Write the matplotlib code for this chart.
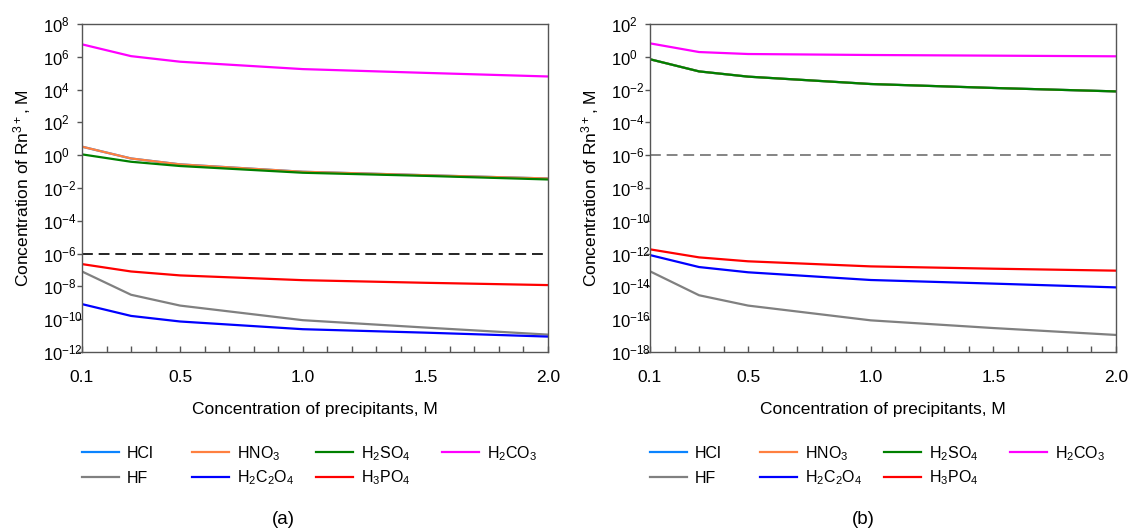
import matplotlib
matplotlib.use("Agg")
import matplotlib.pyplot as plt
import numpy as np
from matplotlib.ticker import FixedLocator, FuncFormatter

plt.rcParams['font.family'] = ['Liberation Sans', 'DejaVu Sans']
plt.rcParams['mathtext.fontset'] = 'custom'
plt.rcParams['mathtext.rm'] = 'Liberation Sans'
plt.rcParams['mathtext.it'] = 'Liberation Sans'
plt.rcParams['mathtext.default'] = 'regular'

# ---- data (log10 of concentration, M) ----
x = [0.1, 0.3, 0.5, 1.0, 1.5, 2.0]
names = ['HCl', 'HF', 'HNO$_3$', 'H$_2$C$_2$O$_4$', 'H$_2$SO$_4$', 'H$_3$PO$_4$', 'H$_2$CO$_3$']
colors = ['#0A84FF', '#808080', '#FF8040', '#0000FF', '#008000', '#FF0000', '#FF00FF']

# panel (a)
a_HCl = [0.52, -0.20, -0.56, -1.01, -1.22, -1.42]
a_HF = [-7.09, -8.51, -9.17, -10.06, -10.51, -10.94]
a_HNO3 = [0.52, -0.20, -0.56, -1.01, -1.22, -1.42]
a_H2C2O4 = [-9.08, -9.80, -10.14, -10.61, -10.82, -11.06]
a_H2SO4 = [0.05, -0.40, -0.66, -1.07, -1.26, -1.48]
a_H3PO4 = [-6.64, -7.09, -7.33, -7.62, -7.78, -7.92]
a_H2CO3 = [6.76, 6.04, 5.70, 5.25, 5.02, 4.80]

# panel (b)
b_HCl = [-0.15, -0.89, -1.21, -1.66, -1.90, -2.11]
b_HF = [-13.08, -14.54, -15.17, -16.07, -16.54, -16.96]
b_HNO3 = [-0.15, -0.89, -1.21, -1.66, -1.90, -2.11]
b_H2C2O4 = [-12.09, -12.82, -13.14, -13.61, -13.83, -14.06]
b_H2SO4 = [-0.15, -0.89, -1.21, -1.66, -1.90, -2.11]
b_H3PO4 = [-11.74, -12.23, -12.47, -12.78, -12.92, -13.04]
b_H2CO3 = [0.82, 0.29, 0.17, 0.11, 0.07, 0.03]

panel_a = [a_HCl, a_HF, a_HNO3, a_H2C2O4, a_H2SO4, a_H3PO4, a_H2CO3]
panel_b = [b_HCl, b_HF, b_HNO3, b_H2C2O4, b_H2SO4, b_H3PO4, b_H2CO3]
draw_order = [0, 2, 4, 6, 5, 1, 3]
legend_cols = [[0, 1], [2, 3], [4, 5], [6]]

limit = 1e-6
xticks = [0.1, 0.5, 1.0, 1.5, 2.0]
xminor = [0.2, 0.3, 0.4, 0.6, 0.7, 0.8, 0.9, 1.1, 1.2, 1.3, 1.4, 1.6, 1.7, 1.8, 1.9]

W, H = 1130, 532
fig = plt.figure(figsize=(11.3, 5.32), dpi=100)
axA = fig.add_axes([82/W, 1-352/H, 466/W, 328/H])
axB = fig.add_axes([650/W, 1-352/H, 466/W, 328/H])

spine_c = '#555555'


def setup(ax, data, ylo, yhi, dash_color, letter, off, letter_x):
    handles = [None]*len(names)
    for i in draw_order:
        ln, = ax.plot(x, [10**v for v in data[i]], color=colors[i], lw=1.6, label=names[i])
        handles[i] = ln
    ax.axhline(limit, color=dash_color, lw=1.2, ls=(0, (6.5, 3.5)))
    ax.set_yscale('log')
    ax.set_ylim(10.0**ylo, 10.0**yhi)
    ax.set_xlim(0.1, 2.0)
    ax.yaxis.set_major_locator(FixedLocator([10.0**k for k in range(ylo, yhi+1, 2)]))
    ax.yaxis.set_minor_locator(FixedLocator([]))
    ax.yaxis.set_major_formatter(FuncFormatter(lambda v, p: '10$^{%d}$' % int(round(np.log10(v)))))
    ax.xaxis.set_major_locator(FixedLocator(xticks))
    ax.xaxis.set_minor_locator(FixedLocator(xminor))
    ax.xaxis.set_major_formatter(FuncFormatter(lambda v, p: '%.1f' % v))
    ax.tick_params(axis='x', which='both', direction='in', length=4.5, width=1, color=spine_c,
                   labelsize=12.5, pad=13)
    ax.tick_params(axis='y', which='both', direction='out', length=3.6, width=1, color=spine_c,
                   labelsize=12, pad=24.5)
    for lab in ax.get_yticklabels():
        lab.set_horizontalalignment('left')
    for s in ax.spines.values():
        s.set_color(spine_c)
        s.set_linewidth(1)
    ax.set_xlabel('Concentration of precipitants, M', fontsize=12.5, labelpad=12)
    ax.set_ylabel('Concentration of Rn$^{3+}$, M', fontsize=12.5)
    ax.yaxis.set_label_coords(-49/466, 0.5)
    col_x = [82, 192, 316, 442]
    col_top = [446, 444, 444, 444]
    col_sp = [0.6, 0.36, 0.36, 0.36]
    for cx, ct, cs, idx in zip(col_x, col_top, col_sp, legend_cols):
        fig.legend(handles=[handles[i] for i in idx], loc='upper left',
                   bbox_to_anchor=((cx + off)/W, 1-ct/H),
                   ncol=1, frameon=False, fontsize=11.5, handlelength=2.3, handletextpad=0.5,
                   labelspacing=cs, borderpad=0, borderaxespad=0)
    fig.text(letter_x/W, 1-519/H, letter, ha='center', va='center', fontsize=13.5)


setup(axA, panel_a, -12, 8, 'black', '(a)', 0, 283)
setup(axB, panel_b, -18, 2, '#707070', '(b)', 568, 863)

fig.savefig('out.png', dpi=100)
